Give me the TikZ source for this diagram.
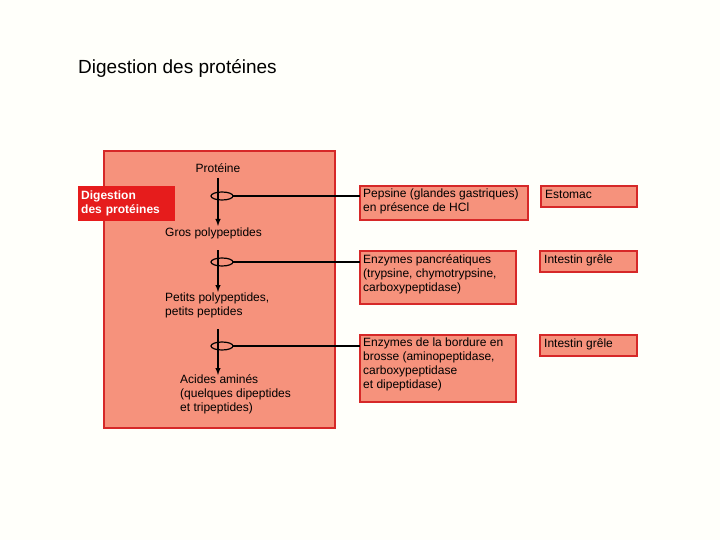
\documentclass[tikz,border=0pt]{standalone}
\usepackage{fontspec}
\setmainfont{Liberation Sans}
\usetikzlibrary{arrows}
\definecolor{salmon}{RGB}{246,146,124}
\definecolor{redline}{RGB}{214,40,40}
\definecolor{redlabel}{RGB}{230,28,28}
\definecolor{paper}{RGB}{255,255,250}
\begin{document}
\begin{tikzpicture}[x = 1pt, y = -1pt]
\tikzset{BoxStyle/.style = {draw = redline, line width = 1.6pt, fill = salmon},
         TextStyle/.style = {font = \fontsize{12}{14}\selectfont, align = left, inner sep = 0pt, anchor = north west},
         post/.style = {-latex, line width = 1.4pt}}
\fill[paper] (0,0) rectangle (720,540);
\useasboundingbox (0,0) rectangle (720,540);
\node[anchor = west, inner sep = 0pt, font = \fontsize{19}{22}\selectfont] (title) at (78,68) {Digestion des protéines};
\draw[BoxStyle] (104,151) rectangle (335,428);
\node[fill = redlabel, text = white, font = \fontsize{12}{14}\selectfont\bfseries, align = left,
      anchor = north west, minimum width = 97pt, minimum height = 35pt, text width = 91pt, inner sep = 3pt] (lbl) at (78,186)
      {Digestion\\des protéines};
\draw[BoxStyle] (360,186) rectangle (528,220);
\draw[BoxStyle] (360,251) rectangle (516,304);
\draw[BoxStyle] (360,335) rectangle (516,402);
\draw[BoxStyle] (541,186) rectangle (637,207);
\draw[BoxStyle] (540,251) rectangle (637,272);
\draw[BoxStyle] (540,335) rectangle (637,356);
\node[TextStyle, anchor = north] (p0) at (218,163) {Protéine};
\node[TextStyle] (p1) at (165,228) {Gros polypeptides};
\node[TextStyle] (p2) at (165,293) {Petits polypeptides,\\petits peptides};
\node[TextStyle] (p3) at (180,374) {Acides aminés\\(quelques dipeptides\\et tripeptides)};
\node[TextStyle] (e1) at (363,189) {Pepsine (glandes gastriques)\\en présence de HCl};
\node[TextStyle] (e2) at (363,254) {Enzymes pancréatiques\\(trypsine, chymotrypsine,\\carboxypeptidase)};
\node[TextStyle] (e3) at (363,338) {Enzymes de la bordure en\\brosse (aminopeptidase,\\carboxypeptidase\\et dipeptidase)};
\node[TextStyle] (l1) at (545,190) {Estomac};
\node[TextStyle] (l2) at (544,255) {Intestin grêle};
\node[TextStyle] (l3) at (544,339) {Intestin grêle};
\coordinate (a1) at (218,226);
\coordinate (a2) at (218,292);
\coordinate (a3) at (218,375);
\draw[post] (218,178) -- (a1);
\draw[post] (218,250) -- (a2);
\draw[post] (218,329) -- (a3);
\foreach \y in {196, 262, 346}
{
  \draw[line width = 1.2pt] (222,\y) ellipse (11 and 4);
  \draw[line width = 1.2pt] (233,\y) -- (360,\y);
}
\end{tikzpicture}
\end{document}
